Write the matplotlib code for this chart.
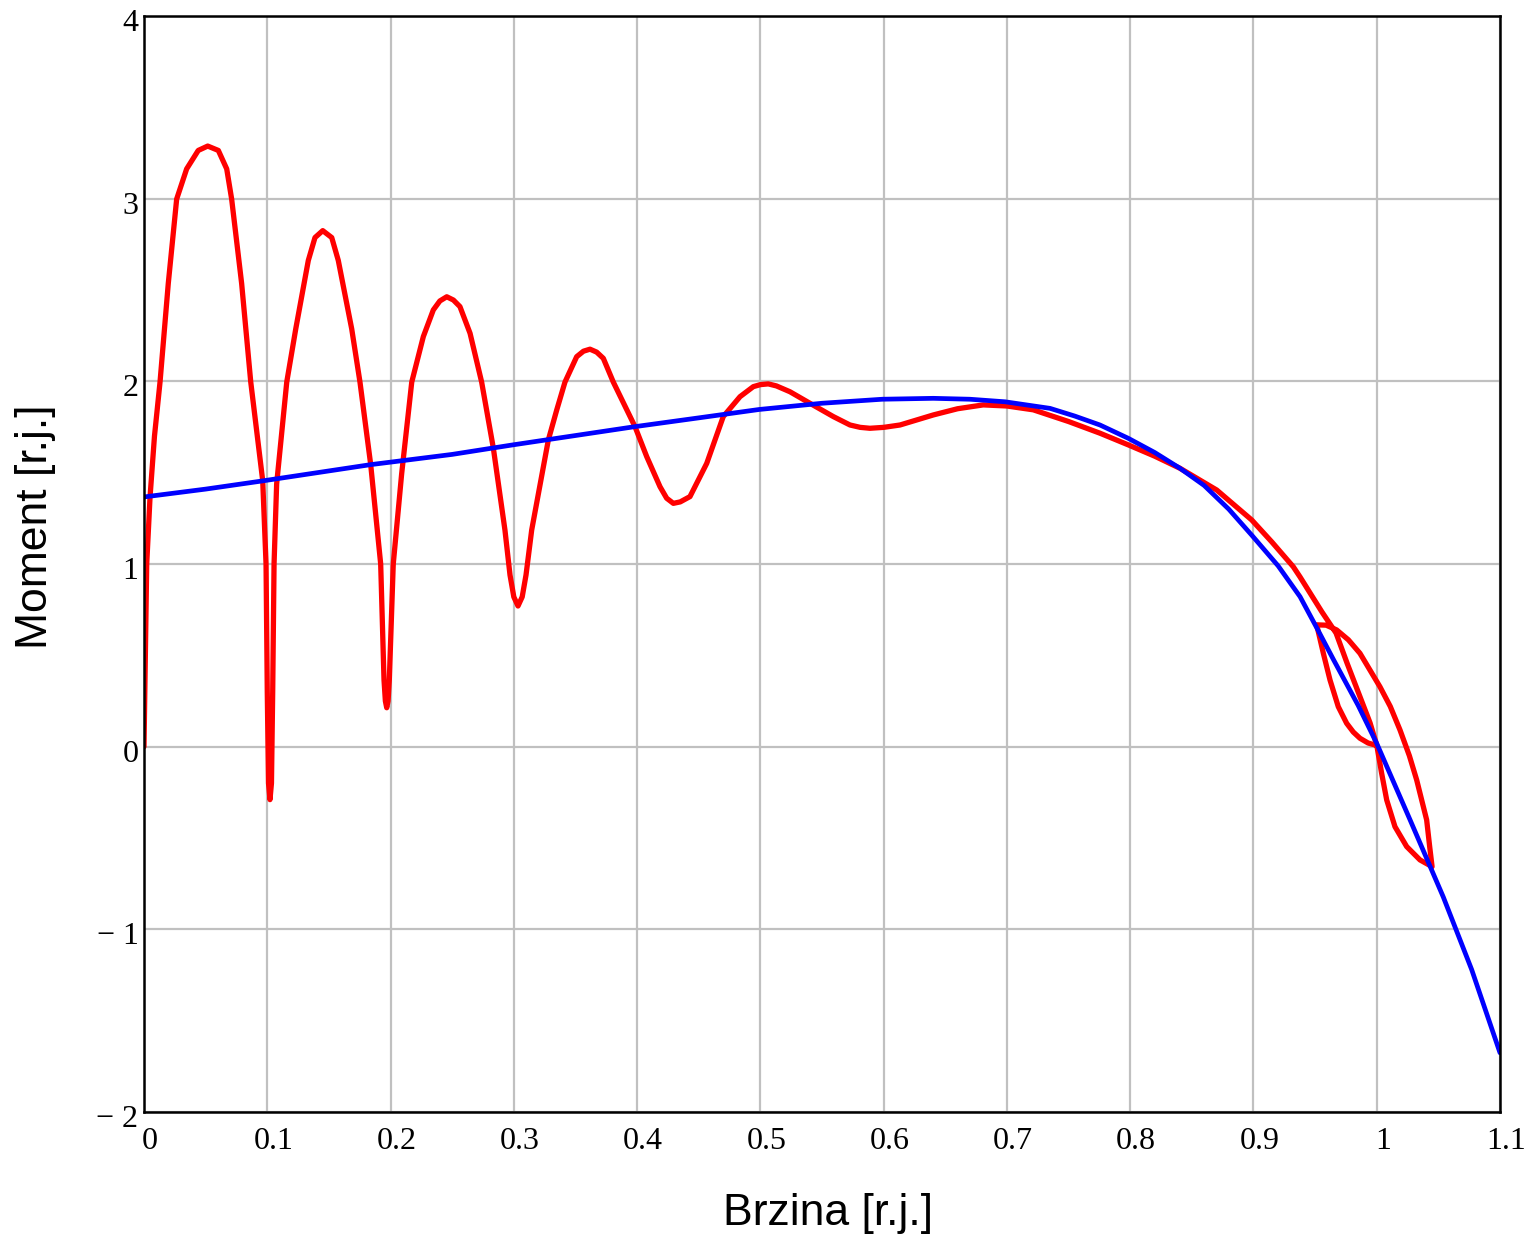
import matplotlib
matplotlib.use("Agg")
import matplotlib.pyplot as plt
from matplotlib.transforms import ScaledTranslation

# ---- data ----
# steady-state characteristic (blue)
speed_static = [0.0, 0.05, 0.0963, 0.1839, 0.25, 0.2991, 0.3983, 0.45, 0.4991, 0.55,
                0.5989, 0.6403, 0.67, 0.6985, 0.7350, 0.755, 0.7755, 0.7985, 0.82,
                0.8404, 0.86, 0.88, 0.8986, 0.92, 0.9378, 0.951, 0.9648, 0.985, 1.0,
                1.027, 1.054, 1.077, 1.1]
torque_static = [1.367, 1.41, 1.455, 1.544, 1.60, 1.652, 1.752, 1.80, 1.846, 1.88,
                 1.902, 1.907, 1.902, 1.888, 1.852, 1.81, 1.761, 1.688, 1.61,
                 1.524, 1.43, 1.30, 1.158, 0.99, 0.821, 0.655, 0.478, 0.225, 0.018,
                 -0.40, -0.823, -1.22, -1.676]

# dynamic start-up trajectory (red)
speed_dyn = [0.000, 0.0010, 0.0022, 0.0049, 0.0085, 0.0130, 0.0197, 0.0265, 0.0346, 0.0440,
             0.0517, 0.0603, 0.0671, 0.0711, 0.0792, 0.0866, 0.0963, 0.0990,
             0.1000, 0.1010, 0.1022, 0.1034, 0.1044, 0.1055, 0.1076, 0.1158, 0.1231, 0.1333,
             0.1387, 0.1450, 0.1523, 0.1576, 0.1685, 0.1752, 0.1839, 0.1920, 0.1947, 0.1958,
             0.1969, 0.1980, 0.1990, 0.2022, 0.2090, 0.2172, 0.2266, 0.2347, 0.2400, 0.2456,
             0.2510, 0.2563, 0.2645, 0.2739, 0.2834, 0.2928, 0.2969, 0.3000, 0.3034, 0.3068,
             0.3099, 0.3145, 0.3280, 0.3348, 0.3415, 0.3510, 0.3565, 0.3618, 0.3672, 0.3726,
             0.3807, 0.3983, 0.4078, 0.4186, 0.4240, 0.4294, 0.4350, 0.4429, 0.4565, 0.4699,
             0.4835, 0.4943, 0.5000, 0.5064, 0.5130, 0.5240, 0.5402, 0.5592, 0.5727, 0.5810,
             0.5889, 0.6000, 0.6133, 0.6403, 0.6600, 0.6808, 0.7000, 0.7214, 0.7500, 0.7755,
             0.7985, 0.8200, 0.8404, 0.8702, 0.8986, 0.9150, 0.9323, 0.9378, 0.9556, 0.9670,
             0.9759, 0.9865, 0.9946, 1.0000, 1.0040, 1.0081, 1.0148, 1.0243, 1.0351, 1.0449,
             1.0430, 1.0405, 1.0324, 1.0265, 1.0189, 1.0110, 1.0026, 0.9864, 0.9770, 0.9675,
             0.9590, 0.9513, 0.9567, 0.9621, 0.9688, 0.9756, 0.9810, 0.9864, 0.9930, 0.9986]
torque_dyn = [0.000, 0.450, 1.000, 1.367, 1.700, 1.996, 2.536, 2.998, 3.163, 3.264,
              3.288, 3.264, 3.163, 2.998, 2.536, 1.996, 1.456, 1.000,
              0.300, -0.200, -0.290, -0.200, 0.300, 1.000, 1.438, 1.996, 2.287, 2.662,
              2.787, 2.825, 2.787, 2.662, 2.287, 1.996, 1.544, 1.000, 0.365, 0.250,
              0.213, 0.250, 0.365, 1.000, 1.493, 1.996, 2.245, 2.391, 2.440, 2.463,
              2.445, 2.409, 2.263, 1.996, 1.634, 1.186, 0.940, 0.820, 0.770, 0.820,
              0.940, 1.186, 1.679, 1.843, 1.996, 2.135, 2.165, 2.176, 2.160, 2.126,
              1.996, 1.752, 1.588, 1.423, 1.360, 1.332, 1.340, 1.369, 1.551, 1.807,
              1.916, 1.971, 1.982, 1.986, 1.975, 1.943, 1.880, 1.807, 1.761, 1.748,
              1.743, 1.748, 1.761, 1.816, 1.850, 1.871, 1.865, 1.844, 1.780, 1.716,
              1.652, 1.590, 1.524, 1.405, 1.241, 1.120, 0.985, 0.929, 0.737, 0.622,
              0.458, 0.272, 0.130, 0.009, -0.146, -0.292, -0.438, -0.547, -0.620, -0.657,
              -0.550, -0.401, -0.182, -0.050, 0.091, 0.220, 0.328, 0.511, 0.585, 0.639,
              0.665, 0.667, 0.511, 0.365, 0.219, 0.128, 0.080, 0.046, 0.020, 0.009]

x_ticks = [0, 0.1, 0.2, 0.3, 0.4, 0.5, 0.6, 0.7, 0.8, 0.9, 1.0, 1.1]
x_tick_labels = ["0", "0.1", "0.2", "0.3", "0.4", "0.5", "0.6", "0.7", "0.8", "0.9", "1", "1.1"]
y_ticks = [-2, -1, 0, 1, 2, 3, 4]
y_tick_labels = ["\u2212 2", "\u2212 1", "0", "1", "2", "3", "4"]

# ---- figure ----
W, H = 1533, 1241
fig = plt.figure(figsize=(W / 100, H / 100), dpi=100)
ax = fig.add_axes([144 / W, 1 - 1112 / H, (1500 - 144) / W, (1112 - 16) / H])

ax.plot(speed_dyn, torque_dyn, color="#ff0000", lw=3.8, solid_joinstyle="round",
        solid_capstyle="round", zorder=3)
ax.plot(speed_static, torque_static, color="#0000ff", lw=3.4, solid_joinstyle="round",
        solid_capstyle="round", zorder=4)

ax.set_xlim(0, 1.1)
ax.set_ylim(-2, 4)
ax.set_xticks(x_ticks)
ax.set_xticklabels(x_tick_labels)
ax.set_yticks(y_ticks)
ax.set_yticklabels(y_tick_labels)
ax.grid(True, color="#c0c0c0", lw=1.6)
ax.set_axisbelow(True)
ax.tick_params(axis="x", length=0, labelsize=23, pad=11)
ax.tick_params(axis="y", length=0, labelsize=23, pad=4)
for lab in ax.get_xticklabels() + ax.get_yticklabels():
    lab.set_fontfamily(["Liberation Serif", "DejaVu Serif"])
for lab in ax.get_xticklabels():
    lab.set_transform(lab.get_transform() + ScaledTranslation(6 / 100, 0, fig.dpi_scale_trans))
for lab in ax.get_yticklabels():
    lab.set_transform(lab.get_transform() + ScaledTranslation(0, -4 / 100, fig.dpi_scale_trans))
for sp in ax.spines.values():
    sp.set_linewidth(1.8)
    sp.set_color("black")
    sp.set_zorder(5)

fig.text(828 / W, 1 - 1213 / H, "Brzina [r.j.]", ha="center", va="center",
         fontsize=32, family=["Liberation Sans", "DejaVu Sans"])
fig.text(36 / W, 1 - 527 / H, "Moment [r.j.]", ha="center", va="center", rotation=90,
         fontsize=32, family=["Liberation Sans", "DejaVu Sans"])

fig.savefig("out.png", dpi=100)
